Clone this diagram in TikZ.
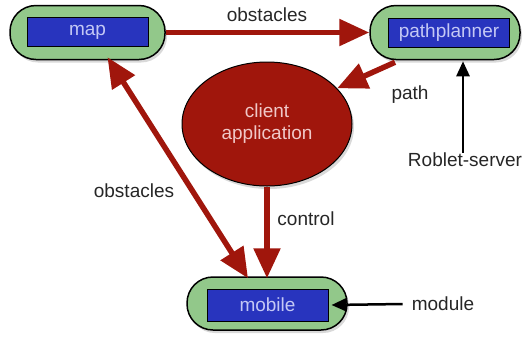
\documentclass[tikz,border=0pt]{standalone}
\usepackage{fontspec}
\setmainfont{Liberation Sans}
\usetikzlibrary{arrows.meta,shapes.geometric,shadows}
\definecolor{pillgreen}{RGB}{146,200,138}
\definecolor{boxblue}{RGB}{40,52,190}
\definecolor{boxtext}{RGB}{196,200,245}
\definecolor{darkred}{RGB}{160,22,12}
\definecolor{pinktext}{RGB}{240,200,200}
\tikzset{
  pill/.style={draw=black, line width=1.5pt, fill=pillgreen, rounded corners=26pt,
    minimum height=54pt, inner sep=0pt,
    drop shadow={opacity=0.3, shadow xshift=2pt, shadow yshift=-3pt}},
  inbox/.style={draw=black, line width=1pt, fill=boxblue, text=boxtext,
    minimum width=121pt, minimum height=29pt, inner sep=0pt, font=\fontsize{19}{22}\selectfont},
  lbl/.style={font=\fontsize{19}{22}\selectfont, text=black!85, inner sep=0pt},
  redarrow/.style={draw=darkred, line width=5.5pt, -{Triangle[length=30pt,width=26pt]}},
  blackarrow/.style={draw=black, line width=2.5pt, -{Triangle[length=15pt,width=13pt]}},
}
\begin{document}
\begin{tikzpicture}[x=1pt,y=-1pt]
\useasboundingbox (0,0) rectangle (524,341);
% pills
\node[pill, minimum width=155pt] (mapo) at (87.5,32.5) {};
\node[inbox] (map) at (87.5,32) {map};
\node[pill, minimum width=150pt] (ppo) at (445,32.5) {};
\node[inbox] (pp) at (449,32.5) {pathplanner};
\node[pill, minimum width=160pt, minimum height=53pt] (mobo) at (267,303.5) {};
\node[inbox, minimum height=32pt] (mob) at (267.5,305) {mobile};
% ellipse
\node[ellipse, draw=black, line width=1pt, fill=darkred, minimum width=170pt, minimum height=124pt,
  inner sep=0pt, text=pinktext, align=center, font=\fontsize{19}{22}\selectfont,
  drop shadow={opacity=0.3, shadow xshift=2pt, shadow yshift=-3pt}] (client) at (267,124) {client\\application};
% labels
\node[lbl] (lobst) at (267,15) {obstacles};
\node[lbl] (lpath) at (410,95) {path};
\node[lbl] (lrs) at (465,160) {Roblet-server};
\node[lbl] (lobst2) at (134,191) {obstacles};
\node[lbl] (lctrl) at (306,219) {control};
\node[lbl] (lmod) at (443,304) {module};
% arrows
\draw[redarrow] (mapo.east) -- (ppo.west);
\draw[redarrow] ([xshift=-50pt,yshift=-2pt]ppo.south) -- (client.27);
\draw[redarrow, {Triangle[length=30pt,width=26pt]}-{Triangle[length=30pt,width=26pt]}]
  ([xshift=20pt,yshift=3pt]mapo.south) -- ([xshift=-19pt,yshift=-2pt]mobo.north);
\draw[redarrow] (client.south) -- ([yshift=-2pt]mobo.north);
\draw[blackarrow] ([xshift=-2pt]lrs.north) -- ([xshift=-2pt,yshift=-1pt]lrs.north |- ppo.south);
\draw[blackarrow] ([xshift=-9pt]lmod.west) -- ([xshift=3pt]mob.east);
\end{tikzpicture}
\end{document}
